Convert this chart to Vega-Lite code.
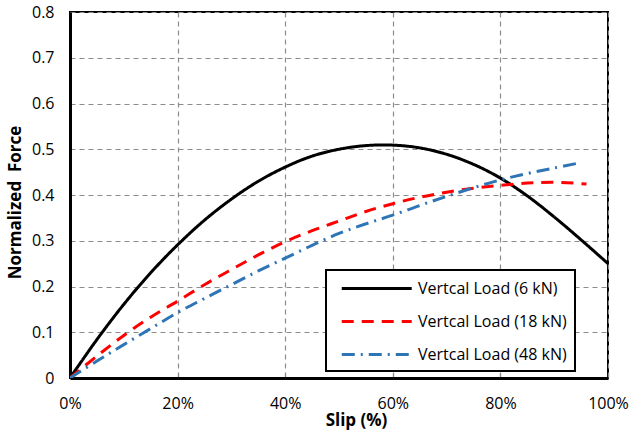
{
  "$schema": "https://vega.github.io/schema/vega-lite/v6.json",
  "width": 538,
  "height": 366,
  "autosize": "none",
  "padding": {"left": 70, "top": 12, "right": 23, "bottom": 58},
  "background": "white",
  "config": {
    "font": "Open Sans",
    "view": {"stroke": "black", "strokeWidth": 2},
    "axis": {
      "labelFont": "Open Sans", "labelFontSize": 16, "labelColor": "#000000",
      "titleFont": "Open Sans", "titleFontSize": 17, "titleFontWeight": "bold", "titleColor": "#000000",
      "gridColor": "#8c8c8c", "gridDash": [5, 4], "gridWidth": 1.2,
      "domainColor": "black", "domainWidth": 3
    },
    "legend": {
      "labelFont": "Open Sans", "labelFontSize": 16, "labelColor": "#000000",
      "strokeWidth": 2
    }
  },
  "datasets": {
    "curves": [
      {"slip": 0.00, "force": 0.000, "series": "Vertcal Load (6 kN)"},
      {"slip": 0.05, "force": 0.084, "series": "Vertcal Load (6 kN)"},
      {"slip": 0.10, "force": 0.161, "series": "Vertcal Load (6 kN)"},
      {"slip": 0.15, "force": 0.230, "series": "Vertcal Load (6 kN)"},
      {"slip": 0.20, "force": 0.291, "series": "Vertcal Load (6 kN)"},
      {"slip": 0.25, "force": 0.345, "series": "Vertcal Load (6 kN)"},
      {"slip": 0.30, "force": 0.391, "series": "Vertcal Load (6 kN)"},
      {"slip": 0.35, "force": 0.430, "series": "Vertcal Load (6 kN)"},
      {"slip": 0.40, "force": 0.461, "series": "Vertcal Load (6 kN)"},
      {"slip": 0.45, "force": 0.485, "series": "Vertcal Load (6 kN)"},
      {"slip": 0.50, "force": 0.500, "series": "Vertcal Load (6 kN)"},
      {"slip": 0.55, "force": 0.508, "series": "Vertcal Load (6 kN)"},
      {"slip": 0.60, "force": 0.509, "series": "Vertcal Load (6 kN)"},
      {"slip": 0.65, "force": 0.503, "series": "Vertcal Load (6 kN)"},
      {"slip": 0.70, "force": 0.489, "series": "Vertcal Load (6 kN)"},
      {"slip": 0.75, "force": 0.467, "series": "Vertcal Load (6 kN)"},
      {"slip": 0.80, "force": 0.437, "series": "Vertcal Load (6 kN)"},
      {"slip": 0.85, "force": 0.398, "series": "Vertcal Load (6 kN)"},
      {"slip": 0.90, "force": 0.352, "series": "Vertcal Load (6 kN)"},
      {"slip": 0.95, "force": 0.302, "series": "Vertcal Load (6 kN)"},
      {"slip": 1.00, "force": 0.250, "series": "Vertcal Load (6 kN)"},
      {"slip": 0.00, "force": 0.000, "series": "Vertcal Load (18 kN)"},
      {"slip": 0.05, "force": 0.048, "series": "Vertcal Load (18 kN)"},
      {"slip": 0.10, "force": 0.093, "series": "Vertcal Load (18 kN)"},
      {"slip": 0.15, "force": 0.133, "series": "Vertcal Load (18 kN)"},
      {"slip": 0.20, "force": 0.168, "series": "Vertcal Load (18 kN)"},
      {"slip": 0.25, "force": 0.204, "series": "Vertcal Load (18 kN)"},
      {"slip": 0.30, "force": 0.237, "series": "Vertcal Load (18 kN)"},
      {"slip": 0.35, "force": 0.269, "series": "Vertcal Load (18 kN)"},
      {"slip": 0.40, "force": 0.298, "series": "Vertcal Load (18 kN)"},
      {"slip": 0.45, "force": 0.322, "series": "Vertcal Load (18 kN)"},
      {"slip": 0.50, "force": 0.343, "series": "Vertcal Load (18 kN)"},
      {"slip": 0.55, "force": 0.364, "series": "Vertcal Load (18 kN)"},
      {"slip": 0.60, "force": 0.381, "series": "Vertcal Load (18 kN)"},
      {"slip": 0.65, "force": 0.395, "series": "Vertcal Load (18 kN)"},
      {"slip": 0.70, "force": 0.406, "series": "Vertcal Load (18 kN)"},
      {"slip": 0.75, "force": 0.415, "series": "Vertcal Load (18 kN)"},
      {"slip": 0.80, "force": 0.421, "series": "Vertcal Load (18 kN)"},
      {"slip": 0.85, "force": 0.426, "series": "Vertcal Load (18 kN)"},
      {"slip": 0.90, "force": 0.428, "series": "Vertcal Load (18 kN)"},
      {"slip": 0.96, "force": 0.424, "series": "Vertcal Load (18 kN)"},
      {"slip": 0.00, "force": 0.000, "series": "Vertcal Load (48 kN)"},
      {"slip": 0.05, "force": 0.037, "series": "Vertcal Load (48 kN)"},
      {"slip": 0.10, "force": 0.073, "series": "Vertcal Load (48 kN)"},
      {"slip": 0.15, "force": 0.108, "series": "Vertcal Load (48 kN)"},
      {"slip": 0.20, "force": 0.143, "series": "Vertcal Load (48 kN)"},
      {"slip": 0.25, "force": 0.174, "series": "Vertcal Load (48 kN)"},
      {"slip": 0.30, "force": 0.204, "series": "Vertcal Load (48 kN)"},
      {"slip": 0.35, "force": 0.234, "series": "Vertcal Load (48 kN)"},
      {"slip": 0.40, "force": 0.262, "series": "Vertcal Load (48 kN)"},
      {"slip": 0.45, "force": 0.290, "series": "Vertcal Load (48 kN)"},
      {"slip": 0.50, "force": 0.316, "series": "Vertcal Load (48 kN)"},
      {"slip": 0.55, "force": 0.337, "series": "Vertcal Load (48 kN)"},
      {"slip": 0.60, "force": 0.356, "series": "Vertcal Load (48 kN)"},
      {"slip": 0.65, "force": 0.377, "series": "Vertcal Load (48 kN)"},
      {"slip": 0.70, "force": 0.397, "series": "Vertcal Load (48 kN)"},
      {"slip": 0.75, "force": 0.416, "series": "Vertcal Load (48 kN)"},
      {"slip": 0.80, "force": 0.433, "series": "Vertcal Load (48 kN)"},
      {"slip": 0.85, "force": 0.447, "series": "Vertcal Load (48 kN)"},
      {"slip": 0.90, "force": 0.459, "series": "Vertcal Load (48 kN)"},
      {"slip": 0.946, "force": 0.470, "series": "Vertcal Load (48 kN)"}
    ]
  },
  "data": {"name": "curves"},
  "mark": {"type": "line", "strokeWidth": 3, "clip": true, "interpolate": "catmull-rom"},
  "encoding": {
    "x": {
      "field": "slip", "type": "quantitative",
      "scale": {"domain": [0, 1], "nice": false},
      "axis": {"title": "Slip (%)", "format": ".0%", "values": [0, 0.2, 0.4, 0.6, 0.8, 1.0],
               "tickSize": -5, "tickColor": "#8c8c8c", "tickWidth": 1.2, "labelPadding": 22, "titlePadding": 1,
               "titleX": 286, "labelFlush": false}
    },
    "y": {
      "field": "force", "type": "quantitative",
      "scale": {"domain": [0, 0.8], "nice": false},
      "axis": {"title": "Normalized\u00a0 Force", "format": ".1~f", "values": [0, 0.1, 0.2, 0.3, 0.4, 0.5, 0.6, 0.7, 0.8],
               "ticks": false, "labelPadding": 16, "titlePadding": 7, "titleY": 190}
    },
    "color": {
      "field": "series", "type": "nominal",
      "scale": {"domain": ["Vertcal Load (6 kN)", "Vertcal Load (18 kN)", "Vertcal Load (48 kN)"],
                "range": ["#000000", "#ff0000", "#2e75b6"]},
      "legend": {
        "title": null, "orient": "none", "legendX": 256, "legendY": 258,
        "strokeColor": "black", "fillColor": "white",
        "padding": 8, "symbolType": "M-1,0H7", "symbolSize": 306, "symbolStrokeWidth": 3,
        "symbolOffset": 6, "rowPadding": 14, "labelOffset": 57
      }
    },
    "strokeDash": {
      "field": "series", "type": "nominal",
      "scale": {"domain": ["Vertcal Load (6 kN)", "Vertcal Load (18 kN)", "Vertcal Load (48 kN)"],
                "range": [[1, 0], [12, 8], [13, 6, 2, 6]]},
      "legend": null
    }
  }
}
